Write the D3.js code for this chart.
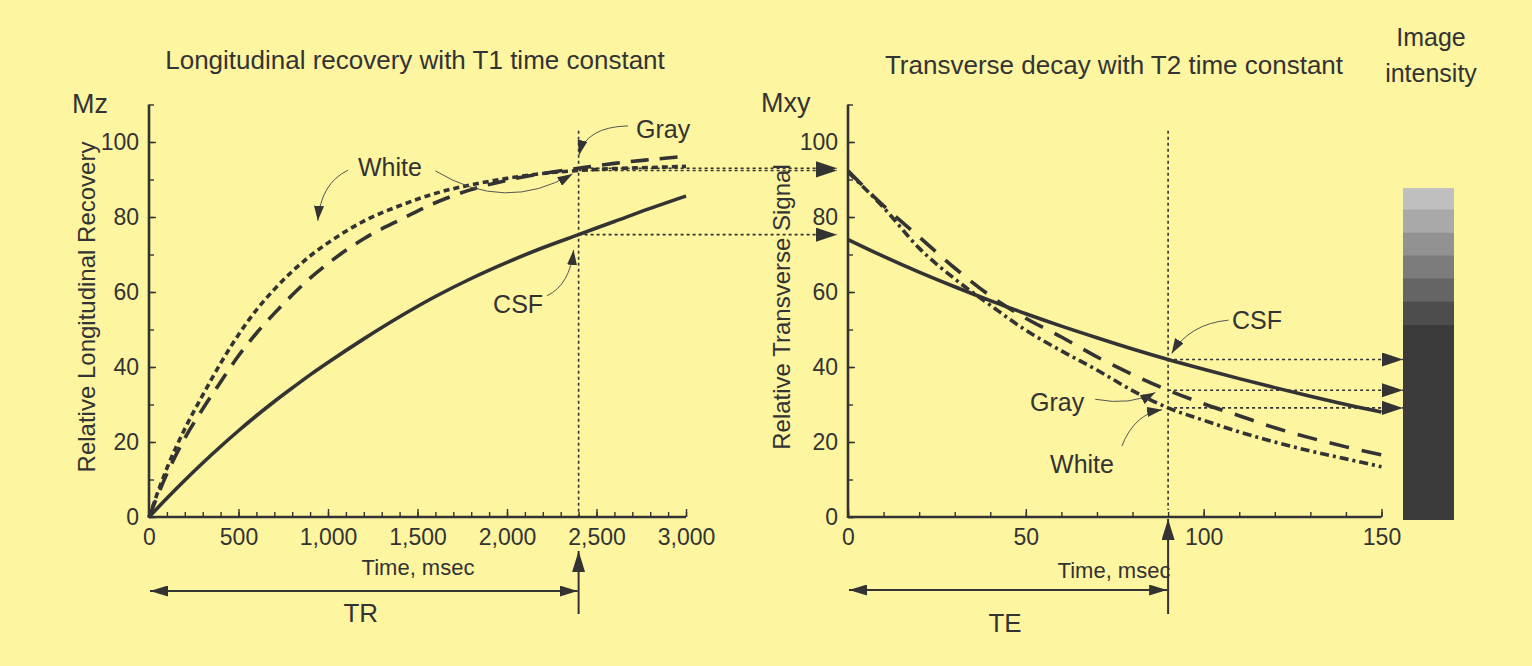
<!DOCTYPE html>
<html><head><meta charset="utf-8">
<script src="https://cdn.jsdelivr.net/npm/d3@7"></script>
<style>
html,body{margin:0;padding:0;background:#fdf5a0;}
svg{display:block;}
text{font-family:"Liberation Sans",Arial,Helvetica,sans-serif;fill:#333;}
</style></head><body>
<svg id="chart" width="1532" height="666"></svg>
<script>
// ---------- data ----------
const t1Times = [0,100,200,300,400,500,600,700,800,900,1000,1200,1400,1600,1800,2000,2200,2400,2600,2800,3000];
const t1White = [0,13,23.5,32.5,41,48.6,55.2,60.7,65.5,69.6,73.1,78.9,83,86.3,88.6,90.3,91.6,92.4,92.9,93.2,93.5];
const t1Gray  = [0,11.5,21,28.8,36,43,49,54.3,59.2,63.7,67.6,74.2,79.2,83.8,87.3,89.8,91.6,93,94.3,95.3,96.2];
const t1CSF   = [0,5,9.8,14.4,18.8,23,27,30.8,34.4,37.9,41.2,47.5,53.4,58.8,63.6,67.9,71.8,75.3,78.8,82.3,85.6];

const t2Times = [0,10,20,30,40,50,60,70,80,90,100,110,120,130,140,150];
const t2White = [92,82.5,71.7,63.5,56.5,49.8,44.3,39.2,33.7,29.1,25.8,22.7,20,17.6,15.5,13.4];
const t2Gray  = [92.3,83,74.7,66.4,59,53,48,42.7,38,33.8,30.2,27,23.8,21.1,18.7,16.6];
const t2CSF   = [74,69.5,65.3,61.4,57.7,54.2,50.9,47.8,44.8,42,39.4,36.9,34.5,32.2,30,28];

const TR = 2400;   // msec
const TE = 90;     // msec

const t1TickValues = [0,500,1000,1500,2000,2500,3000];
const t2TickValues = [0,50,100,150];
const yTickValues  = [0,20,40,60,80,100];

// grey-scale bar: signal level at band edges (top to bottom)
const intensityEdges = [87.7,82,75.8,69.8,63.6,57.5,51.2,0];

// annotation labels [text, t, value]  and arrows [from, control, to] in data units
const leftLabels  = [["Gray",2872,103.6],["White",1346,93.3],["CSF",2062,56.8]];
const leftArrows  = [
  [[2676,104.3],[2440,104],[2402,96.5]],
  [[1112,92.5],[960,89],[943,79]],
  [[1600,92.3],[1990,81],[2366,91.5]],
  [[2224,59],[2352,62],[2372,71.2]]
];
const rightLabels = [["CSF",115,52.5],["Gray",58.8,30.7],["White",65.8,14.1]];
const rightArrows = [
  [[107,52.5],[96,51.5],[91,43.6]],
  [[69.5,31.4],[79.5,29.6],[86.4,33.2]],
  [[77,18.9],[80.5,27.5],[88.3,28.6]]
];

// ---------- drawing ----------
const ink = "#333";
const svg = d3.select("#chart");
svg.append("rect").attr("width",1532).attr("height",666).attr("fill","#fdf5a0");

const xL = d3.scaleLinear().domain([0,3000]).range([149,686]);
const xR = d3.scaleLinear().domain([0,150]).range([848,1381.5]);
const y  = d3.scaleLinear().domain([0,110]).range([517,104.5]);

// markers
const defs = svg.append("defs");
function marker(id, len, wid){
  defs.append("marker").attr("id",id)
    .attr("viewBox","0 0 10 10").attr("refX",10).attr("refY",5)
    .attr("markerUnits","userSpaceOnUse")
    .attr("markerWidth",len).attr("markerHeight",wid)
    .attr("preserveAspectRatio","none")
    .attr("orient","auto-start-reverse")
    .append("path").attr("d","M0,0L10,5L0,10Z").attr("fill",ink);
}
marker("conn",21,14);
marker("dbl",18,11);
marker("up",21,13);
marker("lab",15,10);

function drawAxes(x, ticks, minorStep, fmt){
  const g = svg.append("g");
  const [d0,d1] = x.domain();
  const minor = d3.range(d0, d1+minorStep/2, minorStep);
  g.append("g").attr("transform","translate(0,517)")
    .call(d3.axisBottom(x).tickValues(minor).tickSize(-5).tickFormat(""))
    .call(a=>a.select(".domain").remove());
  g.append("g").attr("transform","translate(0,517)")
    .call(d3.axisBottom(x).tickValues(ticks).tickSize(-8).tickPadding(12).tickFormat(fmt))
    .call(a=>a.select(".domain").remove())
    .call(a=>a.selectAll("text").attr("font-size",23).attr("fill",ink));
  g.append("g").attr("transform",`translate(${x(0)},0)`)
    .call(d3.axisLeft(y).tickValues(d3.range(0,111,10)).tickSize(-5).tickFormat(""))
    .call(a=>a.select(".domain").remove());
  g.append("g").attr("transform",`translate(${x(0)},0)`)
    .call(d3.axisLeft(y).tickValues(yTickValues).tickSize(-7).tickPadding(10))
    .call(a=>a.select(".domain").remove())
    .call(a=>a.selectAll("text").attr("font-size",23).attr("fill",ink));
  g.selectAll(".tick line").attr("stroke",ink).attr("stroke-width",1.4);
  g.append("line").attr("x1",x(d0)).attr("x2",x(d1)).attr("y1",y(0)).attr("y2",y(0))
    .attr("stroke",ink).attr("stroke-width",2.6);
  g.append("line").attr("x1",x(0)).attr("x2",x(0)).attr("y1",y(0)+1).attr("y2",y(110))
    .attr("stroke",ink).attr("stroke-width",2.6);
}
drawAxes(xL, t1TickValues, 100, d3.format(","));
drawAxes(xR, t2TickValues, 10, d3.format("d"));

// curves
function curve(x, times, vals, dash){
  const line = d3.line().x((d,i)=>x(times[i])).y(d=>y(d)).curve(d3.curveMonotoneX);
  svg.append("path").attr("d",line(vals)).attr("fill","none")
    .attr("stroke",ink).attr("stroke-width",3.6)
    .attr("stroke-dasharray",dash);
}
curve(xL, t1Times, t1CSF, null);
curve(xL, t1Times, t1Gray, "18,11");
curve(xL, t1Times, t1White, "6,4");
curve(xR, t2Times, t2CSF, null);
curve(xR, t2Times, t2Gray, "20,13");
curve(xR, t2Times, t2White, "9,4,3,4");

// TR / TE verticals
const valAt = (times, vals, t) => vals[times.indexOf(t)];
function vDotted(x, t, yTopVal, yBottomPx){
  svg.append("line").attr("x1",x(t)).attr("x2",x(t)).attr("y1",y(yTopVal)).attr("y2",yBottomPx)
    .attr("stroke",ink).attr("stroke-width",1.6).attr("stroke-dasharray","3,3");
}
vDotted(xL, TR, 103, y(0));
vDotted(xR, TE, 103, 510);

// connectors
function hConn(x1, x2, v){
  svg.append("line").attr("x1",x1).attr("x2",x2).attr("y1",y(v)).attr("y2",y(v))
    .attr("stroke",ink).attr("stroke-width",1.6).attr("stroke-dasharray","3,3")
    .attr("marker-end","url(#conn)");
}
[t1Gray,t1White,t1CSF].forEach(s=>hConn(xL(TR), xR(0)-11, valAt(t1Times,s,TR)));
const barX0 = 1403, barX1 = 1454;
[t2CSF,t2Gray,t2White].forEach(s=>hConn(xR(TE), barX0, valAt(t2Times,s,TE)));

// intensity bar
const shade = d3.scaleLinear().domain([54,85]).range(["#4c4c4c","#c0c0c0"]).clamp(true);
for(let i=0;i<intensityEdges.length-1;i++){
  const top = intensityEdges[i], bot = intensityEdges[i+1];
  const last = i===intensityEdges.length-2;
  svg.append("rect").attr("x",barX0).attr("width",barX1-barX0)
    .attr("y",y(top)).attr("height",y(bot)-y(top)+(last?3:0.5))
    .attr("fill", last ? "#3b3b3b" : shade((top+bot)/2));
}

// up arrows and double arrows (TR / TE)
function timing(x, t, tipY, label, rowY, labelY){
  svg.append("line").attr("x1",x(t)).attr("x2",x(t)).attr("y1",614).attr("y2",tipY)
    .attr("stroke",ink).attr("stroke-width",2).attr("marker-end","url(#up)");
  svg.append("line").attr("x1",x(0)+1).attr("x2",x(t)-1).attr("y1",rowY).attr("y2",rowY)
    .attr("stroke",ink).attr("stroke-width",2)
    .attr("marker-start","url(#dbl)").attr("marker-end","url(#dbl)");
  svg.append("text").attr("x",(x(0)+x(t))/2-3).attr("y",labelY).attr("text-anchor","middle")
    .attr("font-size",26).text(label);
}
timing(xL, TR, 551, "TR", 591, 622);
timing(xR, TE, 519, "TE", 590, 632);

// annotation labels with curved arrows
function annotate(x, labels, arrows){
  labels.forEach(([txt,t,v])=>{
    svg.append("text").attr("x",x(t)).attr("y",y(v)).attr("dy","0.36em")
      .attr("text-anchor","middle").attr("font-size",25).text(txt);
  });
  arrows.forEach(([a,c,b])=>{
    const p = d3.path();
    p.moveTo(x(a[0]),y(a[1]));
    p.quadraticCurveTo(x(c[0]),y(c[1]),x(b[0]),y(b[1]));
    svg.append("path").attr("d",p.toString()).attr("fill","none")
      .attr("stroke","#555").attr("stroke-width",1)
      .attr("marker-end","url(#lab)");
  });
}
annotate(xL, leftLabels, leftArrows);
annotate(xR, rightLabels, rightArrows);

// titles and axis labels
function txt(x,yy,s,size,anchor,rot){
  const t = svg.append("text").attr("font-size",size).attr("text-anchor",anchor||"start").text(s);
  if(rot) t.attr("transform",`translate(${x},${yy}) rotate(${rot})`);
  else t.attr("x",x).attr("y",yy);
  return t;
}
txt(415,69,"Longitudinal recovery with T1 time constant",26,"middle");
txt(1114,74,"Transverse decay with T2 time constant",26,"middle");
txt(1431,46,"Image",25,"middle");
txt(1431,82,"intensity",25,"middle");
txt(72,113,"Mz",27);
txt(761,112,"Mxy",27);
txt(95,307,"Relative Longitudinal Recovery",24,"middle",-90);
txt(790,307,"Relative Transverse Signal",24,"middle",-90);
txt(418,575,"Time, msec",22,"middle");
txt(1114,578,"Time, msec",22,"middle");
</script>
</body></html>
